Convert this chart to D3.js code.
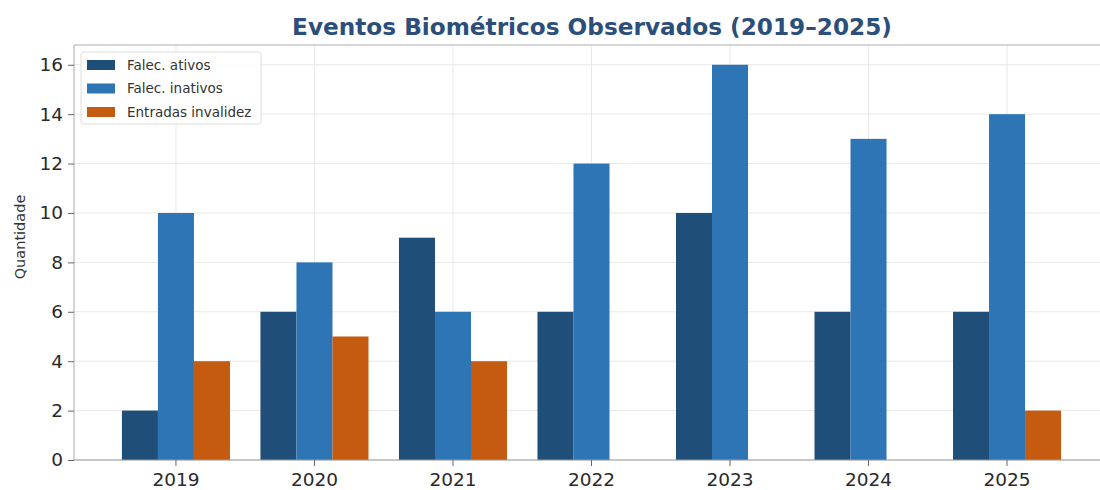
<!DOCTYPE html>
<html>
<head>
<meta charset="utf-8">
<script src="https://cdn.jsdelivr.net/npm/d3@7"></script>
<style>
  body { margin: 0; background: #fff; }
  text { font-family: "DejaVu Sans", sans-serif; }
</style>
</head>
<body>
<div id="chart"></div>
<script>
// Data
const years = ['2019', '2020', '2021', '2022', '2023', '2024', '2025'];
const falecAtivos = [2, 6, 9, 6, 10, 6, 6];
const falecInativos = [10, 8, 6, 12, 16, 13, 14];
const entradasInvalidez = [4, 5, 4, 0, 0, 0, 2];
const seriesNames = ['Falec. ativos', 'Falec. inativos', 'Entradas invalidez'];
const seriesColors = ['#1f4e79', '#2e75b6', '#c55a11'];
const yTicks = [0, 2, 4, 6, 8, 10, 12, 14, 16];

const W = 1100, H = 490;
const plot = { left: 74, right: 1109, top: 45, bottom: 460 };

const svg = d3.select('#chart')
  .append('svg')
  .attr('width', W)
  .attr('height', H);

// Scales
const xScale = d3.scaleBand()
  .domain(years)
  .range([plot.left, plot.right])
  .paddingInner(0)
  .paddingOuter(0.236);
const yScale = d3.scaleLinear().domain([0, 16.8]).range([plot.bottom, plot.top]);
const barW = xScale.bandwidth() * 0.26;
const cx = y => xScale(y) + xScale.bandwidth() / 2;

// Grid
svg.append('g')
  .selectAll('line.hgrid')
  .data(yTicks)
  .join('line')
  .attr('x1', plot.left).attr('x2', plot.right)
  .attr('y1', d => yScale(d)).attr('y2', d => yScale(d))
  .attr('stroke', '#e8e8e8').attr('stroke-width', 1);
svg.append('g')
  .selectAll('line.vgrid')
  .data(years)
  .join('line')
  .attr('x1', d => cx(d)).attr('x2', d => cx(d))
  .attr('y1', plot.top).attr('y2', plot.bottom)
  .attr('stroke', '#e8e8e8').attr('stroke-width', 1);

// Bars
const series = [falecAtivos, falecInativos, entradasInvalidez];
series.forEach((vals, s) => {
  svg.append('g')
    .selectAll('rect')
    .data(vals)
    .join('rect')
    .attr('x', (d, i) => cx(years[i]) + (s - 1.5) * barW)
    .attr('y', d => yScale(d))
    .attr('width', barW)
    .attr('height', d => yScale(0) - yScale(d))
    .attr('fill', seriesColors[s]);
});

// Spines
svg.append('line')
  .attr('x1', plot.left).attr('x2', plot.right)
  .attr('y1', plot.top).attr('y2', plot.top)
  .attr('stroke', '#c8c8c8').attr('stroke-width', 1.5);
svg.append('line')
  .attr('x1', plot.left).attr('x2', plot.left)
  .attr('y1', plot.top).attr('y2', plot.bottom)
  .attr('stroke', '#b8b8b8').attr('stroke-width', 1.2);
svg.append('line')
  .attr('x1', plot.left).attr('x2', plot.right)
  .attr('y1', plot.bottom).attr('y2', plot.bottom)
  .attr('stroke', '#999').attr('stroke-width', 1.2);

// Axes
const yAxis = d3.axisLeft(yScale).tickValues(yTicks).tickSize(6).tickPadding(5);
svg.append('g')
  .attr('transform', `translate(${plot.left}, 0)`)
  .call(yAxis)
  .call(g => g.select('.domain').remove())
  .call(g => g.selectAll('line').attr('stroke', '#666'))
  .call(g => g.selectAll('text').attr('font-size', 18.5).attr('fill', '#2a2a2a')
    .attr('font-family', '"DejaVu Sans", sans-serif'));

const xAxis = d3.axisBottom(xScale).tickSize(6).tickPadding(7);
svg.append('g')
  .attr('transform', `translate(0, ${plot.bottom})`)
  .call(xAxis)
  .call(g => g.select('.domain').remove())
  .call(g => g.selectAll('line').attr('stroke', '#666'))
  .call(g => g.selectAll('text').attr('font-size', 18.5).attr('fill', '#2a2a2a')
    .attr('font-family', '"DejaVu Sans", sans-serif'));

// Y label
svg.append('text')
  .attr('transform', 'translate(25, 237) rotate(-90)')
  .attr('text-anchor', 'middle')
  .attr('font-size', 14.5)
  .attr('fill', '#333')
  .text('Quantidade');

// Title
svg.append('text')
  .attr('x', 592)
  .attr('y', 34.5)
  .attr('text-anchor', 'middle')
  .attr('font-size', 23.2)
  .attr('font-weight', 'bold')
  .attr('fill', '#2b4f7a')
  .text('Eventos Biométricos Observados (2019–2025)');

// Legend
const legend = svg.append('g').attr('transform', 'translate(81, 52)');
legend.append('rect')
  .attr('width', 180).attr('height', 72)
  .attr('rx', 3)
  .attr('fill', '#fff').attr('fill-opacity', 0.85)
  .attr('stroke', '#ddd');
seriesNames.forEach((name, i) => {
  const row = legend.append('g').attr('transform', `translate(6, ${13 + i * 23.5})`);
  row.append('rect')
    .attr('x', 0).attr('y', -5)
    .attr('width', 28).attr('height', 10)
    .attr('fill', seriesColors[i]);
  row.append('text')
    .attr('x', 40).attr('y', 0)
    .attr('dy', '0.35em')
    .attr('font-size', 13.5)
    .attr('fill', '#333')
    .text(name);
});
</script>
</body>
</html>
